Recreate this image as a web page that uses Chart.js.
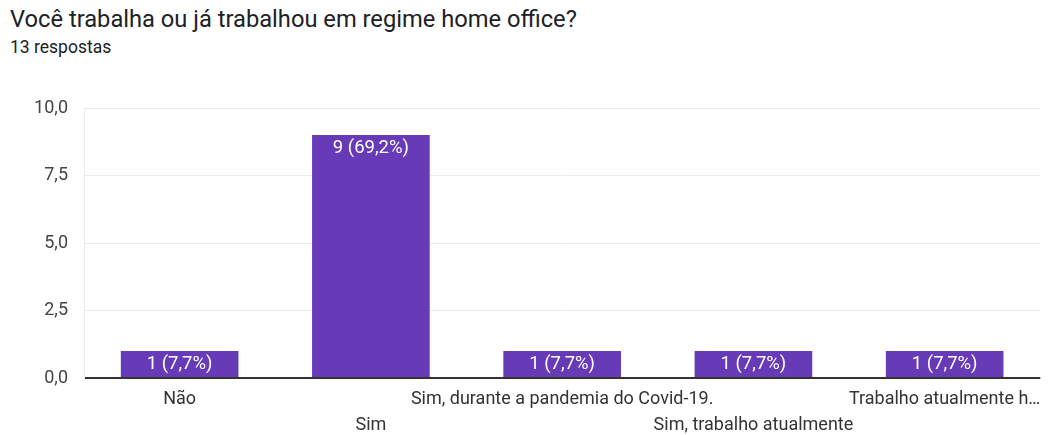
<!DOCTYPE html>
<html><head><meta charset="utf-8">
<script src="https://cdn.jsdelivr.net/npm/chart.js@4/dist/chart.umd.min.js"></script>
<style>
html,body{margin:0;padding:0;background:#fff;width:1050px;height:435px;overflow:hidden;font-family:Roboto,Arial,sans-serif;}
#t{position:absolute;left:10px;top:5px;font-size:23.7px;color:#202124;white-space:nowrap;}
#s{position:absolute;left:10px;top:37px;font-size:17.5px;color:#202124;white-space:nowrap;}
#w{position:absolute;left:0;top:0;width:1050px;height:435px;}
</style></head><body>
<div id="t">Você trabalha ou já trabalhou em regime home office?</div>
<div id="s">13 respostas</div>
<div id="w"><canvas id="c"></canvas></div>
<script>
const categories = ["Não", "Sim", "Sim, durante a pandemia do Covid-19.", "Sim, trabalho atualmente", "Trabalho atualmente h…"];
const counts = [1, 9, 1, 1, 1];
const pctLabels = ["1 (7,7%)", "9 (69,2%)", "1 (7,7%)", "1 (7,7%)", "1 (7,7%)"];
const yTicks = [0, 2.5, 5, 7.5, 10];

const barLabelPlugin = {
  id: 'barLabels',
  afterDatasetsDraw(chart) {
    const ctx = chart.ctx;
    const meta = chart.getDatasetMeta(0);
    ctx.save();
    ctx.fillStyle = '#ffffff';
    ctx.font = '18.5px Roboto, Arial, sans-serif';
    ctx.textAlign = 'center';
    ctx.textBaseline = 'middle';
    meta.data.forEach((bar, i) => {
      ctx.fillText(pctLabels[i], bar.x, bar.y + 13);
    });
    ctx.restore();
  }
};

new Chart(document.getElementById('c'), {
  type: 'bar',
  data: {
    labels: categories,
    datasets: [{
      data: counts,
      backgroundColor: '#673ab7',
      borderWidth: 0,
      categoryPercentage: 1.0,
      barPercentage: 0.615
    }]
  },
  options: {
    responsive: true,
    maintainAspectRatio: false,
    animation: false,
    devicePixelRatio: 1,
    layout: { padding: { top: 108, right: 6, left: 0, bottom: 0 } },
    plugins: { legend: { display: false }, tooltip: { enabled: false } },
    scales: {
      x: {
        grid: { display: false, drawTicks: false },
        border: { display: false },
        afterFit(scale) { scale.height = 57; },
        ticks: {
          autoSkip: false,
          maxRotation: 0,
          minRotation: 0,
          padding: 9,
          color: '#333333',
          font: { family: 'Roboto, Arial, sans-serif', size: 18, lineHeight: 1.44 },
          callback(v, i) { return i % 2 === 1 ? ['', categories[i]] : [categories[i]]; }
        }
      },
      y: {
        min: 0, max: 10,
        afterBuildTicks(scale) { scale.ticks = yTicks.map(v => ({ value: v })); },
        afterFit(scale) { scale.width = 84; },
        grid: {
          drawTicks: false,
          color: ctx => (ctx.tick && ctx.tick.value === 0) ? '#333333' : '#ebebeb',
          lineWidth: ctx => (ctx.tick && ctx.tick.value === 0) ? 2 : 1
        },
        border: { display: true, color: '#ebebeb' },
        ticks: {
          padding: 16,
          color: '#444444',
          font: { family: 'Roboto, Arial, sans-serif', size: 18 },
          callback(v) { return Number(v).toFixed(1).replace('.', ','); }
        }
      }
    }
  },
  plugins: [barLabelPlugin]
});
</script>
</body></html>
